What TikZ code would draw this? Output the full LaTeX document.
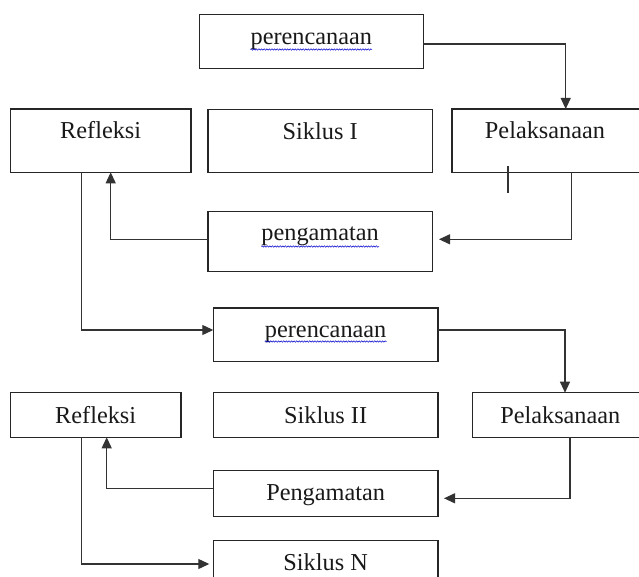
\documentclass[tikz,border=0pt]{standalone}
\usepackage{fontspec}
\setmainfont{Liberation Serif}
\usetikzlibrary{arrows.meta,decorations.pathmorphing}
\tikzset{
  box/.style={draw=black!85, line width=1.1pt, inner sep=0pt, outer sep=0pt, anchor=north west},
  lbl/.style={anchor=base, inner sep=0pt, font=\fontsize{24.3}{29}\selectfont, text=black!90},
  conn/.style={draw=black!80, line width=1.1pt},
  arr/.style={conn, -{Triangle[length=11pt,width=10pt]}},
  wavy/.style={draw=blue!80!black, line width=0.5pt, decorate,
    decoration={snake, segment length=2.6pt, amplitude=0.7pt}}
}
\begin{document}
\begin{tikzpicture}[x=1pt,y=-1pt]
\useasboundingbox (0,0) rectangle (639,577);
\clip (0,0) rectangle (639,577);
% boxes
\node[box, minimum width=224pt, minimum height=54pt] (per1) at (199.3,14.7) {};
\node[box, minimum width=180.7pt, minimum height=63.3pt] (ref1) at (10.3,109) {};
\node[box, minimum width=224.3pt, minimum height=63.3pt] (sik1) at (208,109.3) {};
\node[box, minimum width=200pt, minimum height=63.3pt] (pel1) at (452,109) {};
\node[box, minimum width=224.3pt, minimum height=60.2pt] (peng1) at (208,211.5) {};
\node[box, minimum width=224.7pt, minimum height=53.7pt] (per2) at (213.3,308) {};
\node[box, minimum width=170.7pt, minimum height=44.8pt] (ref2) at (10.3,392.5) {};
\node[box, minimum width=224.7pt, minimum height=44.6pt] (sik2) at (213.3,392.7) {};
\node[box, minimum width=180pt, minimum height=44.6pt] (pel2) at (472.7,392.7) {};
\node[box, minimum width=224.7pt, minimum height=46.4pt] (peng2) at (213.3,470.3) {};
\node[box, minimum width=224.7pt, minimum height=49.3pt] (sikN) at (213.3,540.7) {};
% texts
\node[lbl, yshift=-30.3pt] (per1t) at (per1.north) {perencanaan};
\node[lbl, yshift=-30pt] (ref1t) at (ref1.north) {Refleksi};
\node[lbl, yshift=-30pt] (sik1t) at (sik1.north) {Siklus I};
\node[lbl, yshift=-30pt] (pel1t) at ([xshift=-7pt]pel1.north) {Pelaksanaan};
\node[lbl, yshift=-29pt] (peng1t) at (peng1.north) {pengamatan};
\node[lbl, yshift=-29pt] (per2t) at (per2.north) {perencanaan};
\node[lbl, yshift=-31pt] (ref2t) at (ref2.north) {Refleksi};
\node[lbl, yshift=-31pt] (sik2t) at (sik2.north) {Siklus II};
\node[lbl, yshift=-31pt] (pel2t) at ([xshift=-2.4pt]pel2.north) {Pelaksanaan};
\node[lbl, yshift=-30pt] (peng2t) at (peng2.north) {Pengamatan};
\node[lbl, yshift=-29.5pt] (sikNt) at (sikN.north) {Siklus N};
% spell-check wavy underlines
\draw[wavy] ([yshift=-4.5pt]per1t.base west) -- ([yshift=-4.5pt]per1t.base east);
\draw[wavy] ([yshift=-6pt]peng1t.base west) -- ([yshift=-6pt]peng1t.base east);
\draw[wavy] ([yshift=-4.5pt]per2t.base west) -- ([yshift=-4.5pt]per2t.base east);
% connectors
\draw[arr] ([yshift=-2.3pt]per1.east) -| ([xshift=113.7pt]pel1.north west);
\coordinate (tickA) at (508,166);
\coordinate (tickB) at (508,192.7);
\draw[conn] (tickA) -- (tickB);
\draw[arr] ([xshift=119.7pt]pel1.south west) |- ([xshift=6.7pt,yshift=2.3pt]peng1.east);
\draw[arr] ([yshift=2.3pt]peng1.west) -| ([xshift=100.4pt]ref1.south west);
\draw[arr] ([xshift=71.4pt]ref1.south west) |- ([yshift=4.85pt]per2.west);
\draw[arr] ([yshift=4.85pt]per2.east) -| ([xshift=92.3pt]pel2.north west);
\draw[arr] ([xshift=97.3pt]pel2.south west) |- ([xshift=6pt,yshift=-4.8pt]peng2.east);
\draw[arr] ([yshift=5.2pt]peng2.west) -| ([xshift=96.4pt]ref2.south west);
\draw[arr] ([xshift=71.4pt]ref2.south west) |- ([xshift=-4pt,yshift=1.35pt]sikN.west);
\end{tikzpicture}
\end{document}
